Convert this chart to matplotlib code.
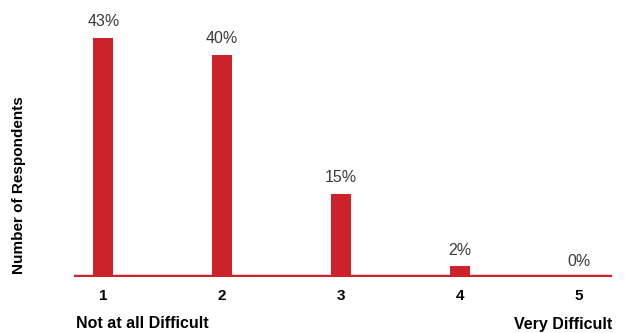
import numpy as np
import matplotlib.pyplot as plt

categories = ['1', '2', '3', '4', '5']
values = [43, 40, 15, 2, 0]
low_label = 'Not at all Difficult'
high_label = 'Very Difficult'
ylabel = 'Number of Respondents'

red = '#cc2229'
plt.rcParams['font.family'] = ['Liberation Sans', 'DejaVu Sans']

W, H = 625, 333
fig = plt.figure(figsize=(W / 100, H / 100), dpi=100)
ax = fig.add_axes([74 / W, (H - 277) / H, (612 - 74) / W, (277 - 10) / H])

x = np.arange(1, len(categories) + 1)
ax.bar(x, values, width=0.165, color=red, zorder=2)
ax.axhline(0, color=red, lw=3.2, zorder=3)

for xi, v in zip(x, values):
    ax.annotate(f'{v}%', (xi, v), xytext=(0, 6), textcoords='offset points',
                ha='center', va='bottom', fontsize=11.5, color='#3a3a3a')

ax.set_xlim(0.754, 5.278)
ax.set_ylim(0, 48)
ax.set_xticks(x)
ax.set_xticklabels(categories, fontsize=11, fontweight='bold')
ax.tick_params(axis='x', length=0, pad=9)
ax.set_yticks([])
for s in ax.spines.values():
    s.set_visible(False)

fig.text(19 / W, 1 - 185 / H, ylabel, rotation=90, ha='center', va='center',
         fontsize=11, fontweight='bold')
fig.text(76 / W, 1 - 324 / H, low_label, ha='left', va='center',
         fontsize=11.5, fontweight='bold')
fig.text(612 / W, 1 - 324 / H, high_label, ha='right', va='center',
         fontsize=11.5, fontweight='bold')

fig.savefig('out.png', dpi=100)
